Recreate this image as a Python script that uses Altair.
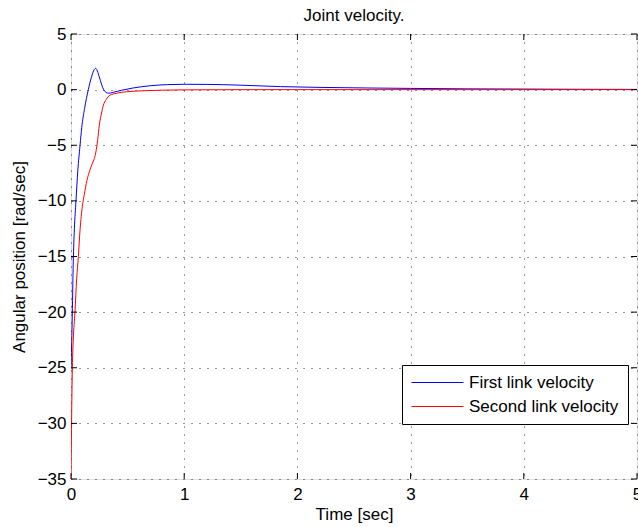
import altair as alt
import pandas as pd

# ---- data ----
series_names = ["First link velocity", "Second link velocity"]

blue_t = [0, 0.01, 0.02, 0.03, 0.044, 0.06, 0.08, 0.095, 0.12, 0.153, 0.18, 0.205,
          0.218, 0.23, 0.245, 0.26, 0.286, 0.31, 0.33, 0.37, 0.45, 0.55, 0.7, 0.85,
          1.0, 1.2, 1.5, 1.85, 2.2, 2.6, 3.0, 3.5, 4.0, 4.5, 5.0]
blue_v = [-25, -21, -15.5, -12.5, -10, -7.3, -5, -3.4, -1.7, 0, 1.1, 1.8,
          1.92, 1.75, 1.3, 0.8, 0.05, -0.25, -0.32, -0.25, -0.05, 0.15, 0.35, 0.45,
          0.48, 0.47, 0.4, 0.27, 0.2, 0.15, 0.11, 0.07, 0.05, 0.03, 0.02]

red_t = [0, 0.005, 0.012, 0.02, 0.035, 0.05, 0.065, 0.08, 0.1, 0.118, 0.14, 0.168,
         0.19, 0.206, 0.22, 0.236, 0.25, 0.27, 0.286, 0.31, 0.345, 0.4, 0.49, 0.65,
         0.8, 1.0, 1.5, 2.0, 5.0]
red_v = [-35, -30, -25, -22.5, -20, -17, -15, -12.6, -10.5, -9.4, -8.2, -7.2,
         -6.6, -6.2, -5.6, -4.5, -3.2, -2.1, -1.4, -0.9, -0.5, -0.33, -0.19, -0.1,
         -0.05, -0.02, -0.005, 0, 0]

x_ticks = [0, 1, 2, 3, 4, 5]
y_ticks = [-35, -30, -25, -20, -15, -10, -5, 0, 5]

FONT = "Liberation Sans"
W, H = 566, 445

df = pd.concat([
    pd.DataFrame({"t": blue_t, "v": blue_v, "series": series_names[0]}),
    pd.DataFrame({"t": red_t, "v": red_v, "series": series_names[1]}),
])
xt = pd.DataFrame({"t": x_ticks})
yt = pd.DataFrame({"v": y_ticks})

grid_kw = dict(grid=True, gridDash=[1, 7], gridColor="#333", gridWidth=1,
               domain=False, ticks=False, labelFont=FONT, labelFontSize=17,
               labelColor="black", labelFlush=False, labelOverlap=False,
               titleFont=FONT, titleFontSize=17, titleFontWeight="normal",
               titleColor="black")

x_enc = alt.X("t:Q", scale=alt.Scale(domain=[0, 5], nice=False, zero=False),
              axis=alt.Axis(values=x_ticks, title="Time [sec]", labelPadding=7,
                            titlePadding=4, **grid_kw))
y_enc = alt.Y("v:Q", scale=alt.Scale(domain=[-35, 5], nice=False, zero=False),
              axis=alt.Axis(values=y_ticks, title="Angular position [rad/sec]",
                            labelPadding=5, titlePadding=9, **grid_kw))

lines = alt.Chart(df).mark_line(strokeWidth=1, clip=True, interpolate="monotone").encode(
    x=x_enc, y=y_enc,
    color=alt.Color("series:N",
                    scale=alt.Scale(domain=series_names, range=["#0000ff", "#ff0000"]),
                    legend=alt.Legend(title=None, orient="none", legendX=331, legendY=331,
                                      symbolType="stroke", symbolSize=2704,
                                      symbolStrokeWidth=1, clipHeight=17, rowPadding=6,
                                      labelFont=FONT, labelFontSize=17, labelColor="black",
                                      labelOffset=5, padding=9, strokeColor="black",
                                      fillColor="white", labelLimit=300)),
)

tick_b = alt.Chart(xt).mark_rule(color="black", strokeWidth=1).encode(
    x=x_enc, y=alt.value(H), y2=alt.value(H - 6))
tick_t = alt.Chart(xt).mark_rule(color="black", strokeWidth=1).encode(
    x=x_enc, y=alt.value(0), y2=alt.value(6))
tick_l = alt.Chart(yt).mark_rule(color="black", strokeWidth=1).encode(
    y=y_enc, x=alt.value(0), x2=alt.value(6))
tick_r = alt.Chart(yt).mark_rule(color="black", strokeWidth=1).encode(
    y=y_enc, x=alt.value(W), x2=alt.value(W - 6))

chart = alt.layer(lines, tick_b, tick_t, tick_l, tick_r).properties(
    width=W, height=H,
    title=alt.Title("Joint velocity.", font=FONT, fontSize=17, fontWeight="normal",
                    color="black", offset=0, anchor="middle"),
    autosize=alt.AutoSizeParams(type="none"),
    padding={"left": 71, "top": 34, "right": 1, "bottom": 48},
).configure_view(stroke="black", strokeWidth=1).configure(background="white")

chart.save("out.html", embed_options={"renderer": "svg", "actions": False})
